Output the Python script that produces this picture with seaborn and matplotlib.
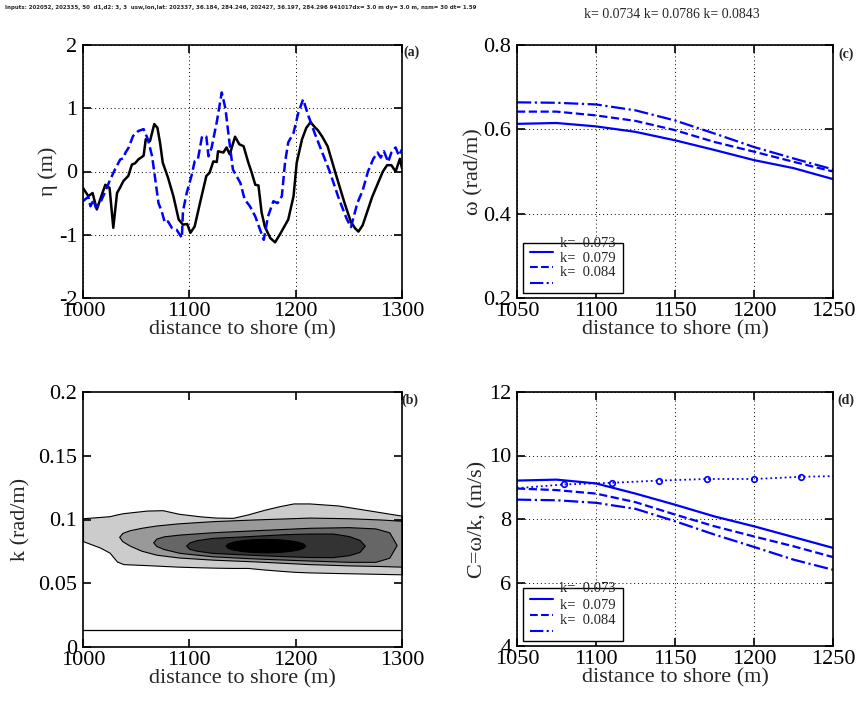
import numpy as np
import pandas as pd
import matplotlib
matplotlib.use("Agg")
import matplotlib.pyplot as plt
import seaborn as sns
from matplotlib.patches import Rectangle
from matplotlib.lines import Line2D

# ---------------- data ----------------
# (a) surface elevation
black_x = [1000, 1005, 1009, 1013, 1017, 1021, 1025, 1028.5, 1032, 1035, 1038, 1042.6, 1046, 1049, 1052, 1057,
           1059, 1063, 1067, 1070, 1072.5, 1075, 1080, 1085, 1090, 1094, 1098, 1101, 1105, 1110, 1116, 1119,
           1122.6, 1125.8, 1127, 1132, 1135, 1138, 1143, 1147, 1151, 1155.5, 1158.7, 1162, 1165, 1168, 1171,
           1176, 1180.6, 1185, 1193, 1198, 1201, 1206, 1210, 1214, 1218, 1221, 1225, 1230, 1237, 1246, 1252,
           1256, 1259, 1263, 1266, 1272, 1277, 1282, 1286, 1290, 1294, 1298, 1300]
black_eta = [-0.26, -0.39, -0.34, -0.60, -0.40, -0.21, -0.26, -0.89, -0.34, -0.25, -0.15, -0.07, 0.11, 0.13,
             0.19, 0.25, 0.51, 0.48, 0.75, 0.69, 0.45, 0.14, -0.10, -0.39, -0.76, -0.84, -0.83, -0.97, -0.87,
             -0.50, -0.07, -0.02, 0.16, 0.15, 0.32, 0.30, 0.38, 0.27, 0.55, 0.43, 0.40, 0.14, -0.02, -0.21,
             -0.22, -0.65, -0.87, -1.05, -1.12, -1.00, -0.76, -0.39, 0.14, 0.51, 0.69, 0.78, 0.70, 0.65, 0.55,
             0.40, 0.00, -0.50, -0.80, -0.90, -0.95, -0.85, -0.70, -0.40, -0.20, 0.00, 0.10, 0.10, 0.00, 0.20,
             0.05]
blue_x = [1000, 1002, 1005, 1007, 1010, 1012, 1016, 1019, 1025, 1030, 1035, 1038, 1040, 1043, 1047, 1052,
          1057, 1061, 1065, 1068, 1071, 1074, 1077, 1080, 1083.5, 1088, 1093, 1094, 1097.5, 1102, 1105, 1108,
          1112, 1116, 1118, 1121, 1126, 1130.5, 1134, 1137, 1141, 1148, 1152, 1157, 1162, 1166.5, 1170, 1174,
          1179, 1183, 1187, 1190, 1193, 1198, 1202.5, 1207, 1212, 1218, 1225, 1232, 1240, 1248, 1252, 1258,
          1263, 1268, 1273, 1277, 1280, 1283, 1287, 1290, 1294, 1297, 1300]
blue_eta = [-0.47, -0.44, -0.40, -0.55, -0.45, -0.57, -0.50, -0.39, -0.15, 0.03, 0.19, 0.21, 0.30, 0.38, 0.56,
            0.64, 0.67, 0.51, 0.24, -0.13, -0.50, -0.63, -0.81, -0.79, -0.89, -0.92, -1.05, -0.63, -0.34,
            -0.07, 0.16, 0.19, 0.56, 0.55, 0.24, 0.38, 0.80, 1.25, 0.99, 0.56, 0.03, -0.18, -0.44, -0.55,
            -0.71, -0.92, -1.08, -0.71, -0.47, -0.50, -0.39, 0.14, 0.46, 0.61, 0.93, 1.14, 0.88, 0.60, 0.30,
            0.00, -0.40, -0.75, -0.88, -0.50, -0.30, 0.00, 0.20, 0.30, 0.22, 0.32, 0.15, 0.30, 0.38, 0.25, 0.35]

# (b) contour bands of spectral energy (outermost to innermost): x, lower k, upper k
band1_x = [1000, 1016, 1025, 1032, 1038, 1060, 1075, 1090, 1110, 1125, 1141, 1155, 1170, 1185, 1198, 1213,
           1240, 1270, 1300]
band1_lo = [0.083, 0.078, 0.074, 0.067, 0.065, 0.0642, 0.0636, 0.063, 0.0625, 0.0622, 0.062, 0.062, 0.0608,
            0.0598, 0.059, 0.0585, 0.058, 0.0575, 0.057]
band1_hi = [0.101, 0.102, 0.1026, 0.104, 0.105, 0.107, 0.1073, 0.1045, 0.1025, 0.1015, 0.1013, 0.104, 0.1075,
            0.1105, 0.1126, 0.1126, 0.111, 0.107, 0.103]
band2_x = [1034, 1037, 1044, 1055, 1069, 1090, 1122, 1160, 1213, 1250, 1280, 1300]
band2_lo = [0.0864, 0.083, 0.0795, 0.0755, 0.0724, 0.0702, 0.0685, 0.0672, 0.065, 0.064, 0.0635, 0.063]
band2_hi = [0.0864, 0.0895, 0.0916, 0.0935, 0.0953, 0.097, 0.0987, 0.100, 0.1015, 0.101, 0.100, 0.099]
band3_x = [1066, 1069, 1076, 1091, 1122, 1160, 1213, 1250, 1275, 1288, 1295]
band3_lo = [0.0821, 0.0792, 0.0768, 0.0738, 0.0711, 0.0695, 0.0678, 0.0668, 0.0668, 0.070, 0.080]
band3_hi = [0.0821, 0.085, 0.0868, 0.0882, 0.090, 0.0915, 0.0935, 0.094, 0.093, 0.090, 0.080]
band4_x = [1097, 1100, 1107, 1122, 1154, 1190, 1213, 1235, 1250, 1260, 1265]
band4_lo = [0.0795, 0.077, 0.0755, 0.0738, 0.0725, 0.0712, 0.0706, 0.0705, 0.072, 0.0745, 0.0795]
band4_hi = [0.0795, 0.082, 0.0838, 0.0856, 0.0869, 0.0885, 0.089, 0.089, 0.087, 0.084, 0.0795]
band5_x = [1134, 1136, 1141, 1150, 1160, 1171.5, 1183, 1193, 1202, 1207, 1209]
band5_lo = [0.0795, 0.0778, 0.0764, 0.0752, 0.0745, 0.0742, 0.0745, 0.0752, 0.0764, 0.0778, 0.0795]
band5_hi = [0.0795, 0.0812, 0.0826, 0.0838, 0.0845, 0.0848, 0.0845, 0.0838, 0.0826, 0.0812, 0.0795]
band_grey = ["#cccccc", "#999999", "#666666", "#333333", "#000000"]
k_cut = 0.013

# (c) dispersion omega and (d) phase speed
dist_cd = [1050, 1075, 1100, 1125, 1150, 1175, 1200, 1225, 1250]
omega_k073 = [0.613, 0.615, 0.607, 0.594, 0.574, 0.551, 0.527, 0.508, 0.482]
omega_k079 = [0.642, 0.642, 0.633, 0.620, 0.598, 0.570, 0.547, 0.523, 0.500]
omega_k084 = [0.664, 0.663, 0.659, 0.645, 0.621, 0.590, 0.558, 0.531, 0.505]
c_k073 = [9.21, 9.24, 9.12, 8.80, 8.45, 8.08, 7.77, 7.43, 7.09]
c_k079 = [8.96, 8.91, 8.80, 8.53, 8.14, 7.77, 7.45, 7.14, 6.80]
c_k084 = [8.61, 8.59, 8.51, 8.32, 7.93, 7.51, 7.12, 6.72, 6.40]
obs_x = [1050, 1080, 1110, 1140, 1170, 1200, 1230, 1250]
obs_c = [8.97, 9.09, 9.14, 9.21, 9.26, 9.26, 9.33, 9.35]

legend_labels = ["k=  0.073", "k=  0.079", "k=  0.084"]
header_left = ("Inputs: 202052, 202335, 50  d1,d2: 3, 3  usw,lon,lat: 202337, 36.184, 284.246, 202427, "
               "36.197, 284.296 941017dx= 3.0 m dy= 3.0 m, nsm= 30 dt= 1.59")
header_right = "k= 0.0734 k= 0.0786 k= 0.0843"

ticks_a_x = [1000, 1100, 1200, 1300]
ticks_a_y = [-2, -1, 0, 1, 2]
ticks_b_y = [0, 0.05, 0.1, 0.15, 0.2]
ticks_b_ylab = ["0", "0.05", "0.1", "0.15", "0.2"]
ticks_cd_x = [1050, 1100, 1150, 1200, 1250]
ticks_c_y = [0.2, 0.4, 0.6, 0.8]
ticks_c_ylab = ["0.2", "0.4", "0.6", "0.8"]
ticks_d_y = [4, 6, 8, 10, 12]

# ---------------- style ----------------
sns.set_style("ticks")
plt.rcParams['font.family'] = ['Liberation Serif', 'DejaVu Serif']
plt.rcParams.update({
    "axes.unicode_minus": False,
    "xtick.direction": "in", "ytick.direction": "in",
    "xtick.top": True, "ytick.right": True,
    "xtick.major.size": 6, "ytick.major.size": 6,
    "xtick.major.width": 1.2, "ytick.major.width": 1.2,
    "xtick.labelsize": 16, "ytick.labelsize": 16,
    "axes.labelsize": 16, "axes.linewidth": 1.2,
    "axes.edgecolor": "black", "xtick.color": "black", "ytick.color": "black",
    "xtick.major.pad": 3, "ytick.major.pad": 4,
})

fig = plt.figure(figsize=(8.62, 7.04), dpi=100)
W, H = 862, 704


def add_ax(l, r, t, b):
    return fig.add_axes([l / W, (H - b) / H, (r - l) / W, (b - t) / H])


ax_a = add_ax(83, 402, 45, 298)
ax_b = add_ax(83, 402, 392, 647)
ax_c = add_ax(517, 833, 45, 298)
ax_d = add_ax(517, 833, 392, 646)

grid_kw = dict(color="black", linestyle=(0, (1, 3)), linewidth=0.7)

# (a)
sns.lineplot(x=black_x, y=black_eta, ax=ax_a, color="black", linewidth=1.8, estimator=None, sort=False)
sns.lineplot(x=blue_x, y=blue_eta, ax=ax_a, color="blue", linewidth=1.8, linestyle="--",
             estimator=None, sort=False)
ax_a.set_xlim(1000, 1300)
ax_a.set_ylim(-2, 2)
ax_a.set_xticks(ticks_a_x)
ax_a.set_yticks(ticks_a_y)
ax_a.grid(True, **grid_kw)
ax_a.set_xlabel("distance to shore (m)", labelpad=-1)
ax_a.set_ylabel("η (m)")

# (b)
bands = [(band1_x, band1_lo, band1_hi), (band2_x, band2_lo, band2_hi), (band3_x, band3_lo, band3_hi),
         (band4_x, band4_lo, band4_hi), (band5_x, band5_lo, band5_hi)]
for (bx, blo, bhi), col in zip(bands, band_grey):
    ax_b.fill_between(bx, blo, bhi, facecolor=col, edgecolor="black", linewidth=0.8)
ax_b.axhline(k_cut, color="black", linewidth=0.9)
ax_b.set_xlim(1000, 1300)
ax_b.set_ylim(0, 0.2)
ax_b.set_xticks(ticks_a_x)
ax_b.set_yticks(ticks_b_y)
ax_b.set_yticklabels(ticks_b_ylab)
ax_b.set_xlabel("distance to shore (m)", labelpad=-1)
ax_b.set_ylabel("k (rad/m)")

# (c)
styles = ["-", "--", "-."]
for series, ls in zip([omega_k073, omega_k079, omega_k084], styles):
    sns.lineplot(x=dist_cd, y=series, ax=ax_c, color="blue", linewidth=1.6, linestyle=ls,
                 estimator=None, sort=False)
ax_c.set_xlim(1050, 1250)
ax_c.set_ylim(0.2, 0.8)
ax_c.set_xticks(ticks_cd_x)
ax_c.set_yticks(ticks_c_y)
ax_c.set_yticklabels(ticks_c_ylab)
ax_c.grid(True, **grid_kw)
ax_c.set_xlabel("distance to shore (m)", labelpad=-1)
ax_c.set_ylabel("ω (rad/m)")

# (d)
for series, ls in zip([c_k073, c_k079, c_k084], styles):
    sns.lineplot(x=dist_cd, y=series, ax=ax_d, color="blue", linewidth=1.6, linestyle=ls,
                 estimator=None, sort=False)
sns.lineplot(x=obs_x, y=obs_c, ax=ax_d, color="blue", linewidth=1.3, linestyle=":", marker="o",
             markersize=4, markerfacecolor="none", markeredgecolor="blue", markeredgewidth=1.2,
             markevery=list(range(1, len(obs_x) - 1)), estimator=None, sort=False)
ax_d.set_xlim(1050, 1250)
ax_d.set_ylim(4, 12)
ax_d.set_xticks(ticks_cd_x)
ax_d.set_yticks(ticks_d_y)
ax_d.grid(True, **grid_kw)
ax_d.set_xlabel("distance to shore (m)", labelpad=-1)
ax_d.set_ylabel("C=ω/k, (m/s)")

# y label positions (MATLAB places them close to the tick labels)
ax_a.yaxis.set_label_coords(-0.078, 0.5)
ax_b.yaxis.set_label_coords(-0.166, 0.5)
ax_c.yaxis.set_label_coords(-0.107, 0.5)
ax_d.yaxis.set_label_coords(-0.094, 0.5)


def draw_legend(ax, box, line_ys, text_ys):
    ax.add_patch(Rectangle((box[0], box[1]), box[2] - box[0], box[3] - box[1], transform=ax.transAxes,
                           facecolor="white", edgecolor="black", linewidth=1.0, zorder=5))
    for ls, y in zip(styles, line_ys):
        ax.add_line(Line2D([0.041, 0.114], [y, y], transform=ax.transAxes, color="blue", linestyle=ls,
                           linewidth=1.5, zorder=6))
    for lab, y in zip(legend_labels, text_ys):
        ax.text(0.136, y, lab, transform=ax.transAxes, ha="left", va="center", fontsize=10.5, zorder=7)


draw_legend(ax_c, (0.019, 0.02, 0.335, 0.217), [0.182, 0.123, 0.059], [0.217, 0.158, 0.099])
draw_legend(ax_d, (0.019, 0.02, 0.335, 0.228), [0.185, 0.122, 0.060], [0.228, 0.161, 0.102])

for ax in (ax_a, ax_b, ax_c, ax_d):
    for s in ax.spines.values():
        s.set_visible(True)
        s.set_color("black")
        s.set_linewidth(1.2)
    ax.set_axisbelow(False)

for ax, lab, xf, yf in [(ax_a, "(a)", 1.031, 0.972), (ax_b, "(b)", 1.025, 0.969),
                        (ax_c, "(c)", 1.041, 0.962), (ax_d, "(d)", 1.041, 0.969)]:
    ax.text(xf, yf, lab, transform=ax.transAxes, ha="center", va="center", fontsize=10, fontweight="bold")

fig.text(5 / W, 1 - 8 / H, header_left, ha="left", va="center", fontsize=4, fontweight="bold",
         family=["DejaVu Sans"])
fig.text(672 / W, 1 - 14 / H, header_right, ha="center", va="center", fontsize=10)

fig.savefig("out.png", dpi=100)
